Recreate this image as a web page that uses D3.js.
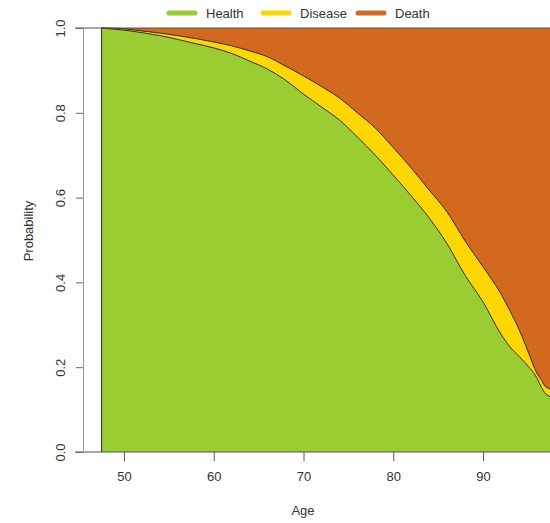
<!DOCTYPE html>
<html>
<head>
<meta charset="utf-8">
<script src="https://cdn.jsdelivr.net/npm/d3@7"></script>
<style>
  body { margin: 0; background: #fff; }
  text { font-family: "Liberation Sans", Arial, sans-serif; fill: #333; }
</style>
</head>
<body>
<div id="chart"></div>
<script>
// state probabilities by age
let ages = [47.5, 48, 50, 52, 54, 56, 58, 60, 62, 64, 66, 68, 70, 72, 74, 76, 78, 80, 82, 84, 86, 88, 90, 92, 93, 94, 95, 96, 96.5, 97, 98]
let health = [1, 0.999, 0.995, 0.989, 0.982, 0.973, 0.963, 0.953, 0.940, 0.922, 0.903, 0.877, 0.844, 0.814, 0.783, 0.743, 0.700, 0.653, 0.604, 0.552, 0.491, 0.417, 0.354, 0.278, 0.248, 0.226, 0.203, 0.175, 0.153, 0.137, 0.127]
let disease = [0, 0.001, 0.003, 0.004, 0.006, 0.009, 0.012, 0.014, 0.018, 0.024, 0.029, 0.033, 0.043, 0.048, 0.052, 0.057, 0.064, 0.065, 0.066, 0.066, 0.075, 0.081, 0.083, 0.095, 0.085, 0.064, 0.035, 0.011, 0.017, 0.016, 0.019]

let states = ["Health", "Disease", "Death"]
let colors = ["#9ACD32", "#FFD700", "#D2691E"]

let xTicks = [50, 60, 70, 80, 90]
let yTicks = [0, 0.2, 0.4, 0.6, 0.8, 1.0]

let svgW = 550;
let svgH = 523;

let x = d3.scaleLinear().domain([50, 90]).range([124, 483])
let y = d3.scaleLinear().domain([0, 1]).range([452, 28])

let rows = ages.map((a, i) => ({
  age: a,
  Health: health[i],
  Disease: disease[i],
  Death: 1 - health[i] - disease[i]
}))

let stack = d3.stack().keys(states)
let series = stack(rows)

let svg = d3.select("#chart")
  .append("svg")
  .attr("width", svgW)
  .attr("height", svgH)

let area = d3.area()
  .curve(d3.curveMonotoneX)
  .x(d => x(d.data.age))
  .y0(d => y(d[0]))
  .y1(d => y(d[1]))

svg.selectAll("path.band")
  .data(series)
  .enter()
  .append("path")
  .attr("class", "band")
  .attr("d", area)
  .attr("fill", (d, i) => colors[i])

// borders between states
let edge = d3.line()
  .curve(d3.curveMonotoneX)
  .x(d => x(d.data.age))
  .y(d => y(d[1]))

svg.selectAll("path.edge")
  .data(series.slice(0, 2))
  .enter()
  .append("path")
  .attr("class", "edge")
  .attr("d", edge)
  .attr("fill", "none")
  .attr("stroke", "#2a2a2a")
  .attr("stroke-width", 1)

svg.append("line")
  .attr("x1", x(ages[0])).attr("x2", x(ages[0]))
  .attr("y1", y(0)).attr("y2", y(1))
  .attr("stroke", "#2a2a2a")

// frame lines at 0 and 1
svg.selectAll("line.hz")
  .data([0, 1])
  .enter()
  .append("line")
  .attr("class", "hz")
  .attr("x1", 75).attr("x2", svgW)
  .attr("y1", d => y(d)).attr("y2", d => y(d))
  .attr("stroke", "#555")

// x axis
let xAxis = svg.append("g")
  .attr("transform", `translate(0, ${y(0)})`)
  .call(d3.axisBottom(x).tickValues(xTicks).tickSize(9).tickPadding(11).tickFormat(d3.format("d")))
xAxis.select(".domain").remove()
xAxis.selectAll("line").attr("stroke", "#555")
xAxis.selectAll("text").attr("font-size", 13).attr("fill", "#333")
  .style("font-family", '"Liberation Sans", Arial, sans-serif')

// y axis
let yAxis = svg.append("g")
  .attr("transform", "translate(83, 0)")
  .call(d3.axisLeft(y).tickValues(yTicks).tickSize(7).tickFormat(d3.format(".1f")))
yAxis.select(".domain").attr("stroke", "#999")
yAxis.selectAll("line").attr("stroke", "#666")
yAxis.selectAll("text")
  .attr("font-size", 13).attr("fill", "#333")
  .style("font-family", '"Liberation Sans", Arial, sans-serif')
  .attr("x", null).attr("dy", null)
  .attr("text-anchor", "middle")
  .attr("transform", "translate(-18, 0) rotate(-90)")

svg.append("text")
  .attr("x", 303).attr("y", 515)
  .attr("text-anchor", "middle")
  .attr("font-size", 13)
  .text("Age")

svg.append("text")
  .attr("transform", "translate(33, 231) rotate(-90)")
  .attr("text-anchor", "middle")
  .attr("font-size", 13)
  .text("Probability")

// legend
let legX = [169, 263, 358]
let legend = svg.selectAll("g.leg")
  .data(states)
  .enter()
  .append("g")
  .attr("class", "leg")
  .attr("transform", (d, i) => `translate(${legX[i]}, 13)`)

legend.append("line")
  .attr("x1", 0).attr("x2", 26)
  .attr("stroke", (d, i) => colors[i])
  .attr("stroke-width", 5)
  .attr("stroke-linecap", "round")

legend.append("text")
  .attr("x", 37).attr("y", 5)
  .attr("font-size", 13)
  .text(d => d)
</script>
</body>
</html>
